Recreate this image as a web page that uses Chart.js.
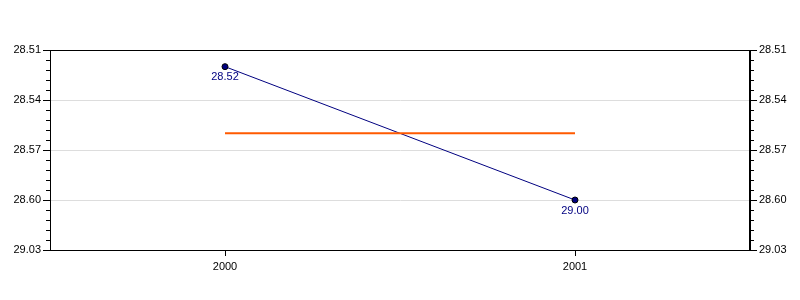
<!DOCTYPE html>
<html>
<head>
  <meta charset="UTF-8" />
  <title>Times</title>
  <style>
    body { margin: 0; background: #fff; }
  </style>
  <script src="https://cdn.jsdelivr.net/npm/chart.js"></script>
</head>
<body>
  <canvas id="chart" width="800" height="300"></canvas>
  <script>
    // values as shown in the picture (min.sec)
    const years = ['2000', '2001'];
    const times = ['28.52', '29.00'];
    const average = ['28.56', '28.56'];
    const yTickLabels = ['28.51', '28.54', '28.57', '28.60', '29.03'];

    const toSec = s => {
      const [m, sec] = s.split('.');
      return parseInt(m) * 60 + parseInt(sec);
    };

    const tickVals = yTickLabels.map(toSec);
    const yMin = tickVals[0];
    const yMax = tickVals[tickVals.length - 1];
    const labelFor = v => {
      const i = tickVals.findIndex(t => Math.abs(t - v) < 0.01);
      return i >= 0 ? yTickLabels[i] : '';
    };

    const font = { family: 'Liberation Sans, Arial, sans-serif', size: 11 };

    const yScale = (position) => ({
      type: 'linear',
      position: position,
      reverse: true,
      min: yMin,
      max: yMax,
      afterFit: s => { s.width = 50; },
      afterBuildTicks: s => { s.ticks = tickVals.map(v => ({ value: v })); },
      border: { display: true, color: '#000', width: 1 },
      grid: {
        drawOnChartArea: position === 'left',
        color: '#dddddd',
        tickColor: '#000',
        tickLength: 7
      },
      ticks: {
        color: '#000',
        font: font,
        padding: 2,
        callback: v => labelFor(v)
      }
    });

    const frame = {
      id: 'frame',
      afterDraw(chart) {
        const ctx = chart.ctx;
        const a = chart.chartArea;
        ctx.save();
        ctx.strokeStyle = '#000';
        ctx.lineWidth = 1;
        ctx.strokeRect(a.left + 0.5, a.top + 0.5, a.right - a.left - 1, a.bottom - a.top);

        // minor ticks on both sides
        const y = chart.scales.y;
        ctx.beginPath();
        for (let v = yMin; v <= yMax + 0.001; v += 0.6) {
          const p = Math.round(y.getPixelForValue(v)) + 0.5;
          ctx.moveTo(a.left - 4, p); ctx.lineTo(a.left, p);
          ctx.moveTo(a.right, p); ctx.lineTo(a.right + 4, p);
        }
        ctx.stroke();

        // point labels
        const meta = chart.getDatasetMeta(1);
        ctx.fillStyle = '#000080';
        ctx.font = '11px Liberation Sans, Arial, sans-serif';
        ctx.textAlign = 'center';
        ctx.textBaseline = 'top';
        meta.data.forEach((pt, i) => {
          ctx.fillText(times[i], pt.x, pt.y + 5);
        });
        ctx.restore();
      }
    };

    new Chart(document.getElementById('chart'), {
      type: 'line',
      data: {
        labels: years,
        datasets: [
          {
            data: average.map(toSec),
            borderColor: '#ff5a00',
            borderWidth: 2,
            pointRadius: 0,
            fill: false
          },
          {
            data: times.map(toSec),
            borderColor: '#000080',
            borderWidth: 1,
            pointRadius: 3,
            pointBackgroundColor: '#000080',
            pointBorderColor: '#000',
            pointBorderWidth: 1,
            fill: false
          }
        ]
      },
      options: {
        responsive: false,
        animation: false,
        layout: { padding: { top: 50, left: 0, right: 0, bottom: 0 } },
        plugins: {
          legend: { display: false },
          tooltip: { enabled: false }
        },
        scales: {
          x: {
            offset: true,
            afterFit: s => { s.height = 50; },
            border: { display: true, color: '#000' },
            grid: {
              drawOnChartArea: false,
              offset: false,
              tickColor: '#000',
              tickLength: 6
            },
            ticks: { color: '#000', font: font, padding: 4 }
          },
          y: yScale('left'),
          y2: yScale('right')
        }
      },
      plugins: [frame]
    });
  </script>
</body>
</html>
